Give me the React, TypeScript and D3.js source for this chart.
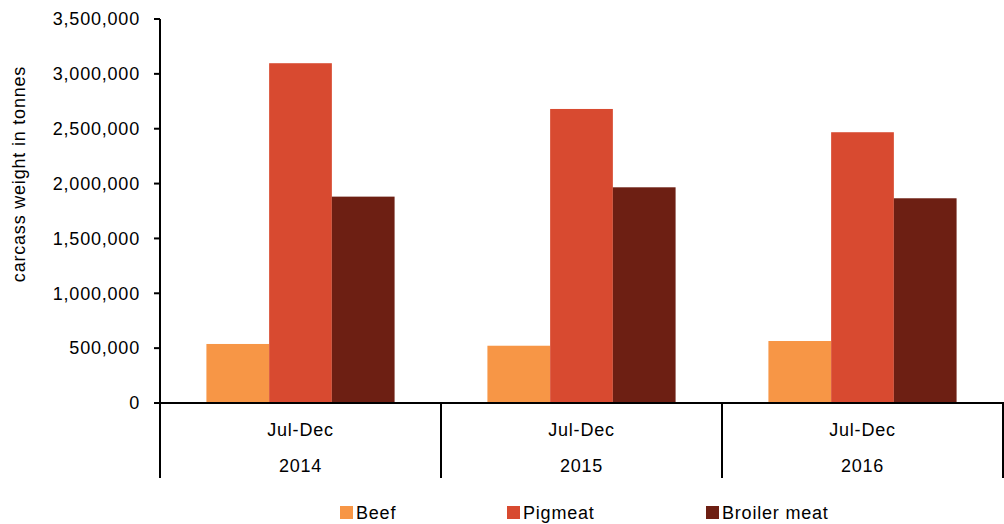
import React from 'react';
import * as d3 from 'd3';

const periods = ['Jul-Dec', 'Jul-Dec', 'Jul-Dec'];
const years = ['2014', '2015', '2016'];
const seriesNames = ['Beef', 'Pigmeat', 'Broiler meat'];
const beef = [538000, 522000, 565000];
const pigmeat = [3097000, 2680000, 2468000];
const broiler = [1881000, 1966000, 1866000];
const yTicks = [0, 500000, 1000000, 1500000, 2000000, 2500000, 3000000, 3500000];

const colors = ['#F79646', '#D84A30', '#6D1F13'];
const values = [beef, pigmeat, broiler];

const W = 1004;
const H = 524;
const margin = { top: 19, left: 160, right: 1, bottom: 121 };
const font = '"Liberation Sans", Arial, sans-serif';

const App = () => {
  const x = d3.scaleBand<string>().domain(years).range([margin.left, W - margin.right]);
  const x1 = d3
    .scaleBand<string>()
    .domain(seriesNames)
    .range([0, x.bandwidth()])
    .paddingInner(0)
    .paddingOuter(0.74);
  const y = d3.scaleLinear().domain([0, 3500000]).range([H - margin.bottom, margin.top]);
  const fmt = d3.format(',');
  const y0 = y(0);

  const legendX = [340, 507, 706];

  return (
    <svg
      width={W}
      height={H}
      style={{ position: 'absolute', left: 0, top: 0, background: '#fff' }}
      fontFamily={font}
      fontSize={18}
      letterSpacing={0.8}
    >
      {/* bars */}
      {years.map((yr, i) => (
        <g key={yr} transform={`translate(${x(yr)},0)`}>
          {seriesNames.map((s, j) => (
            <rect
              key={s}
              x={x1(s)}
              y={y(values[j][i])}
              width={x1.bandwidth()}
              height={y0 - y(values[j][i])}
              fill={colors[j]}
            />
          ))}
        </g>
      ))}

      {/* y axis */}
      <line x1={margin.left} x2={margin.left} y1={margin.top} y2={478} stroke="#000" strokeWidth={2} />
      {yTicks.map((t) => (
        <g key={t} transform={`translate(0,${y(t)})`}>
          <line x1={margin.left - 6} x2={margin.left} stroke="#000" strokeWidth={2} />
          <text x={140} dy="0.35em" textAnchor="end" fill="#000">
            {fmt(t)}
          </text>
        </g>
      ))}
      <text
        transform={`translate(25,${(margin.top + y0) / 2 - 37}) rotate(-90)`}
        textAnchor="middle"
        fill="#000"
      >
        carcass weight in tonnes
      </text>

      {/* x axis */}
      <line x1={margin.left - 6} x2={W} y1={y0} y2={y0} stroke="#000" strokeWidth={2} />
      {years.map((yr, i) => (
        <g key={yr}>
          <line
            x1={(x(yr) as number) + x.bandwidth()}
            x2={(x(yr) as number) + x.bandwidth()}
            y1={y0}
            y2={478}
            stroke="#000"
            strokeWidth={2}
          />
          <text x={(x(yr) as number) + x.bandwidth() / 2} y={430} dy="0.35em" textAnchor="middle" fill="#000">
            {periods[i]}
          </text>
          <text x={(x(yr) as number) + x.bandwidth() / 2} y={466} dy="0.35em" textAnchor="middle" fill="#000">
            {yr}
          </text>
        </g>
      ))}

      {/* legend */}
      {seriesNames.map((s, j) => (
        <g key={s} transform={`translate(${legendX[j]},506)`}>
          <rect width={13} height={13} fill={colors[j]} />
          <text x={16} y={13} fill="#000">
            {s}
          </text>
        </g>
      ))}
    </svg>
  );
};

export default App;
